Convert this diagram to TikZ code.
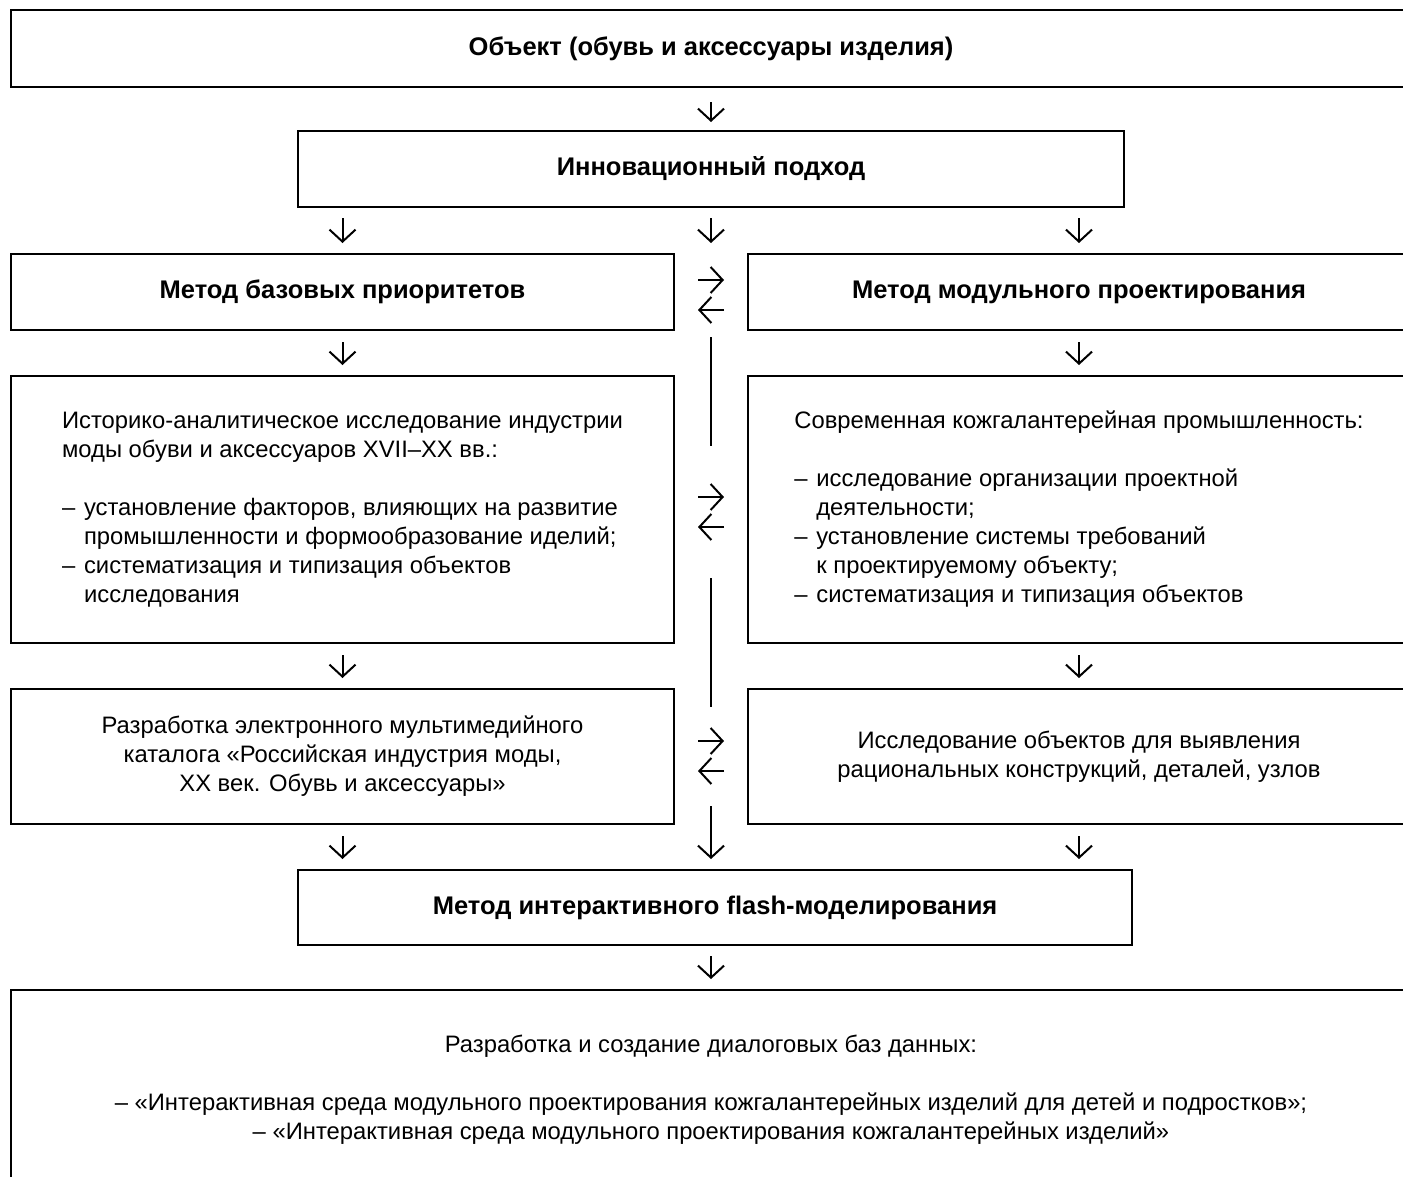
\documentclass[tikz,border=0pt]{standalone}
\usepackage{fontspec}
\setmainfont{Liberation Sans}
\usetikzlibrary{arrows.meta,calc}
\newcommand\dashit{\makebox[22pt][l]{–}}
\newcommand\indit{\hspace*{22pt}}
\newcommand\txtfs{\fontsize{23.8}{29}\selectfont}
\newcommand\ttlfs{\fontsize{25.5}{29}\selectfont}
\begin{document}
\begin{tikzpicture}[x=1pt,y=-1pt,
  box/.style={draw, line width=2.5pt, inner sep=0pt, outer sep=0pt, font=\txtfs},
  title/.style={box, font=\ttlfs\bfseries},
  arr/.style={line width=2pt, -{Straight Barb[length=12pt,width=26pt]}},
  ln/.style={line width=2pt}]
\useasboundingbox (0,0) rectangle (1403,1176);
\clip (0,0) rectangle (1403,1176);
\fill[white] (0,0) rectangle (1403,1176);

\node[title, minimum width=1400pt, minimum height=77pt] (top) at (711,48.5) {Объект (обувь и аксессуары изделия)};
\node[title, minimum width=826pt, minimum height=76pt] (inn) at (711,169) {Инновационный подход};
\node[title, minimum width=663pt, minimum height=76pt] (m1) at (342.5,292) {Метод базовых приоритетов};
\node[title, minimum width=662pt, minimum height=76pt] (m2) at (1079,292) {Метод модульного проектирования};

\node[box, minimum width=663pt, minimum height=267pt, align=left] (r4l) at (342.5,509.5)
 {Историко-аналитическое исследование индустрии\\
  моды обуви и аксессуаров XVII–XX вв.:\\[29pt]
  \dashit установление факторов, влияющих на развитие\\
  \indit промышленности и формообразование иделий;\\
  \dashit систематизация и типизация объектов\\
  \indit исследования};
\node[box, minimum width=662pt, minimum height=267pt, align=left] (r4r) at (1079,509.5)
 {Современная кожгалантерейная промышленность:\\[29pt]
  \dashit исследование организации проектной\\
  \indit деятельности;\\
  \dashit установление системы требований\\
  \indit к проектируемому объекту;\\
  \dashit систематизация и типизация объектов};

\node[box, minimum width=663pt, minimum height=135pt, align=center] (r5l) at (342.5,756.5)
 {Разработка электронного мультимедийного\\
  каталога «Российская индустрия моды,\\
  XX век. Обувь и аксессуары»};
\node[box, minimum width=662pt, minimum height=135pt, align=center] (r5r) at (1079,756.5)
 {Исследование объектов для выявления\\
  рациональных конструкций, деталей, узлов};

\node[title, minimum width=834pt, minimum height=75pt] (flash) at (715,907.5) {Метод интерактивного flash-моделирования};

\node[box, minimum width=1400pt, minimum height=200pt, align=center] (bot) at (711,1090)
 {Разработка и создание диалоговых баз данных:\\[29pt]
  – «Интерактивная среда модульного проектирования кожгалантерейных изделий для детей и подростков»;\\
  – «Интерактивная среда модульного проектирования кожгалантерейных изделий»};

% vertical arrows
\draw[arr, shorten <=15pt, shorten >=9pt] (top.south -| inn.north) -- (inn.north);
\draw[arr, shorten <=11pt, shorten >=11pt] (inn.south -| m1.north) -- (m1.north);
\draw[arr, shorten <=11pt, shorten >=11pt] (inn.south) -- (inn.south |- m1.north);
\draw[arr, shorten <=11pt, shorten >=11pt] (inn.south -| m2.north) -- (m2.north);
\draw[arr, shorten <=12pt, shorten >=11pt] (m1.south) -- (r4l.north);
\draw[arr, shorten <=12pt, shorten >=11pt] (m2.south) -- (r4r.north);
\draw[arr, shorten <=12pt, shorten >=11pt] (r4l.south) -- (r5l.north);
\draw[arr, shorten <=12pt, shorten >=11pt] (r4r.south) -- (r5r.north);
\draw[arr, shorten <=12pt, shorten >=11pt] (r5l.south) -- (r5l.south |- flash.north);
\draw[arr, shorten <=12pt, shorten >=11pt] (r5r.south) -- (r5r.south |- flash.north);
\coordinate (c5) at (711,806);
\draw[arr, shorten >=11pt] (c5) -- (c5 |- flash.north);
\draw[arr, shorten <=11pt, shorten >=11pt] (flash.south -| bot.north) -- (bot.north);

% horizontal double arrows
\draw[arr, shorten <=24pt, shorten >=24pt] ([yshift=12pt]m1.east) -- ([yshift=12pt]m2.west);
\draw[arr, shorten <=24pt, shorten >=24pt] ([yshift=-18pt]m2.west) -- ([yshift=-18pt]m1.east);
\draw[arr, shorten <=24pt, shorten >=24pt] ([yshift=12.5pt]r4l.east) -- ([yshift=12.5pt]r4r.west);
\draw[arr, shorten <=24pt, shorten >=24pt] ([yshift=-17.5pt]r4r.west) -- ([yshift=-17.5pt]r4l.east);
\draw[arr, shorten <=24pt, shorten >=24pt] ([yshift=15.5pt]r5l.east) -- ([yshift=15.5pt]r5r.west);
\draw[arr, shorten <=24pt, shorten >=24pt] ([yshift=-14.5pt]r5r.west) -- ([yshift=-14.5pt]r5l.east);

% vertical connecting lines
\coordinate (v1a) at (711,337);
\coordinate (v1b) at (711,446);
\coordinate (v2a) at (711,578);
\coordinate (v2b) at (711,707);
\draw[ln] (v1a) -- (v1b);
\draw[ln] (v2a) -- (v2b);
\end{tikzpicture}
\end{document}
